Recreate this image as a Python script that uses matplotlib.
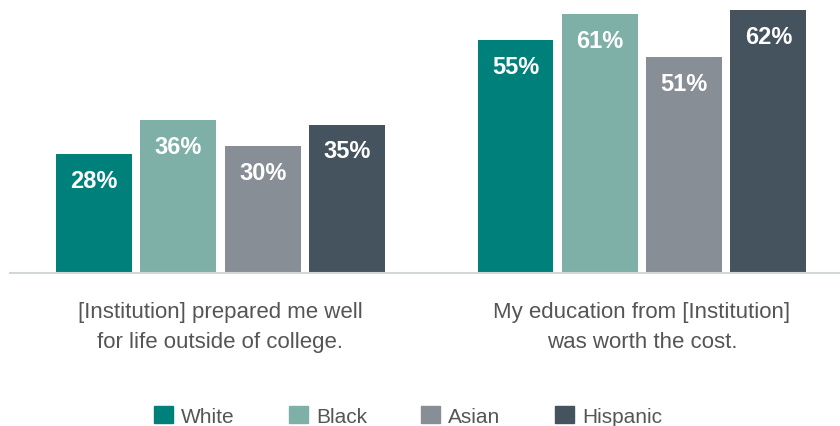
import matplotlib.pyplot as plt
from matplotlib.patches import Patch

plt.rcParams['font.family'] = ['Liberation Sans', 'DejaVu Sans']

# survey results by group
questions = ['[Institution] prepared me well\nfor life outside of college.',
             'My education from [Institution]\nwas worth the cost.']
groups = ['White', 'Black', 'Asian', 'Hispanic']
white = [28, 55]
black = [36, 61]
asian = [30, 51]
hispanic = [35, 62]
colors = ['#00807a', '#7fb0a8', '#878e95', '#44535e']

series = [white, black, asian, hispanic]

fig = plt.figure(figsize=(8.4, 4.27), dpi=100)
ax = fig.add_axes([10 / 840, 153 / 427, 830 / 840, 274 / 427])

group_gap = 5.0
for i, (vals, c) in enumerate(zip(series, colors)):
    xs = [g * group_gap + (i - 1.5) for g in range(len(questions))]
    bars = ax.bar(xs, vals, width=0.9, color=c)
    for b, v in zip(bars, vals):
        ax.annotate(f'{v}%', (b.get_x() + b.get_width() / 2, v),
                    xytext=(0, -19), textcoords='offset points',
                    ha='center', va='center', color='white',
                    fontsize=17, fontweight='bold')

ax.set_xlim(-2.497, 7.35)
ax.set_ylim(0, 64.6)
for s in ['top', 'right', 'left']:
    ax.spines[s].set_visible(False)
ax.spines['bottom'].set_color('#d3d7d7')
ax.spines['bottom'].set_linewidth(1.5)
ax.set_yticks([])
ax.set_xticks([g * group_gap for g in range(len(questions))])
ax.set_xticklabels(questions, fontsize=16, color='#555555', linespacing=1.6)
ax.tick_params(axis='x', length=0, pad=20)

handles = [Patch(color=c, label=g) for g, c in zip(groups, colors)]
fig.legend(handles=handles, loc='center', bbox_to_anchor=(408 / 840, 10 / 427),
           ncol=4, frameon=False, fontsize=15, handlelength=0.9,
           handleheight=0.9, handletextpad=0.4, columnspacing=2.6,
           labelcolor='#555555')

fig.savefig('out.png', dpi=100)
